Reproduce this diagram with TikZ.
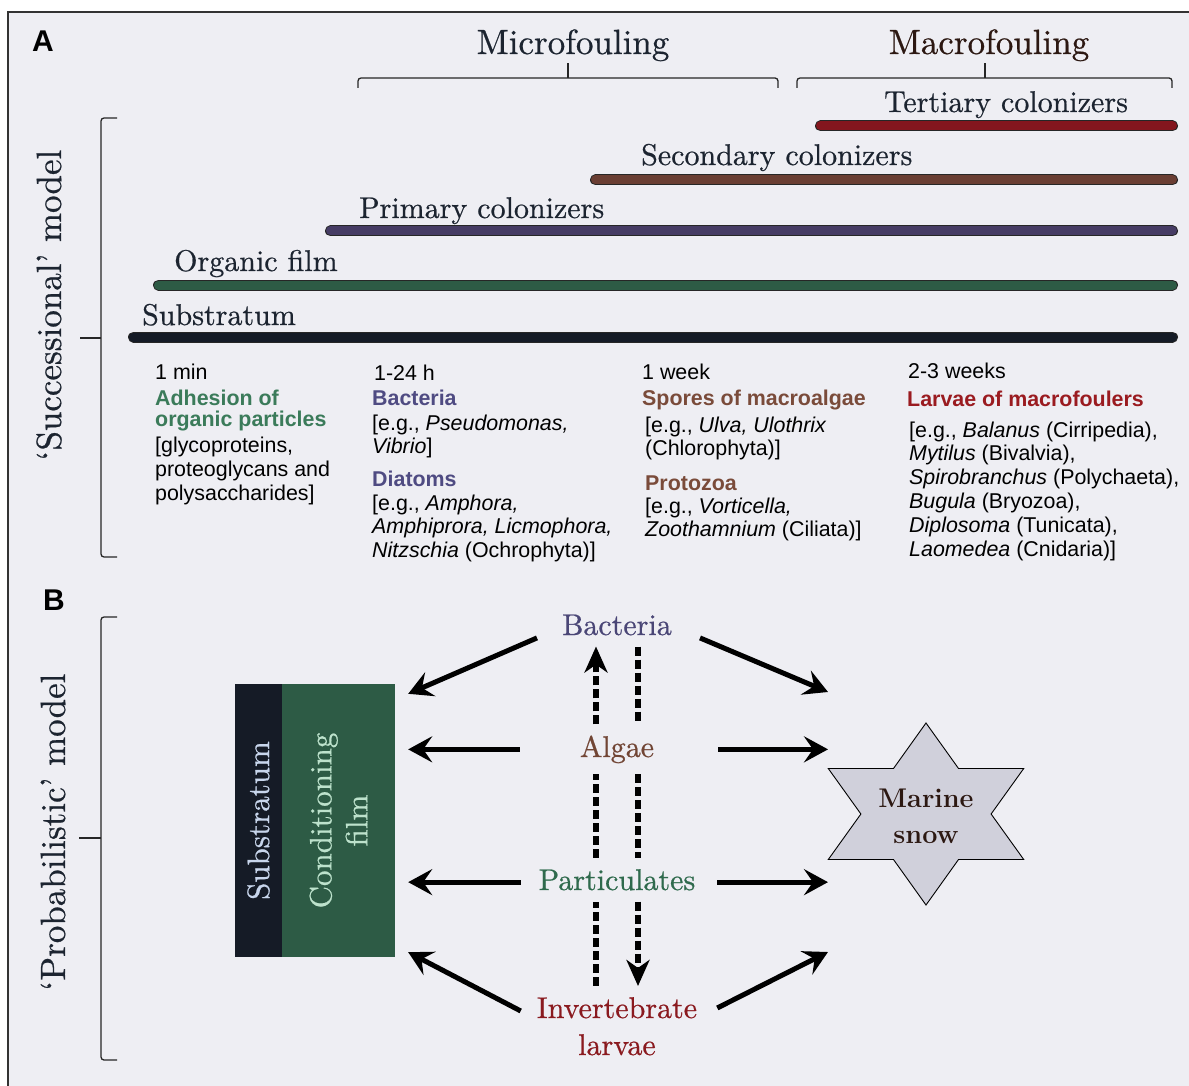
\documentclass[tikz,border=0pt]{standalone}
\usepackage{fontspec}
\setsansfont{Liberation Sans}
\newfontfamily\serifheavy{lmroman10-regular}[Extension=.otf, Ligatures=TeX, FakeBold=0.6]
\usepackage{tikz}
\usetikzlibrary{arrows.meta,calc,positioning}
\definecolor{bgcol}{HTML}{EEEEF3}
\definecolor{subcol}{HTML}{151B26}
\definecolor{filmcol}{HTML}{2D5B45}
\definecolor{primcol}{HTML}{463C64}
\definecolor{seccol}{HTML}{6A3E33}
\definecolor{tertcol}{HTML}{84161E}
\definecolor{microcol}{HTML}{1C2430}
\definecolor{macrocol}{HTML}{2C1812}
\definecolor{greencol}{HTML}{3B7B5A}
\definecolor{purpcol}{HTML}{4F4B82}
\definecolor{browncol}{HTML}{7A4B3A}
\definecolor{redcol}{HTML}{9A1B20}
\definecolor{bactcol}{HTML}{4A4676}
\definecolor{algcol}{HTML}{714534}
\definecolor{partcol}{HTML}{2F6A4D}
\definecolor{invcol}{HTML}{8A1A1F}
\definecolor{starcol}{HTML}{D0D0DB}
\definecolor{subtext}{HTML}{C8D6EC}
\definecolor{filmtext}{HTML}{BDE2CC}

\begin{document}
\begin{tikzpicture}[
    x=1pt, y=-1pt,
    bar/.style={draw=black!85, line width=1pt, double distance=9pt, line cap=round},
    brace/.style={draw=black!85, line width=1.3pt, rounded corners=3pt},
    fouling/.style={font=\serifheavy\fontsize{35}{40}\selectfont, anchor=base, inner sep=0pt},
    stage/.style={font=\serifheavy\fontsize{30}{36}\selectfont, anchor=base west, inner sep=0pt, text=microcol},
    modellabel/.style={font=\serifheavy\fontsize{35}{40}\selectfont, rotate=90, anchor=base, inner sep=0pt, text=microcol},
    panel/.style={font=\sffamily\bfseries\fontsize{30}{34}\selectfont, anchor=base west, inner sep=0pt},
    info/.style={font=\sffamily\fontsize{21.4}{23.8}\selectfont, align=left, anchor=base west, inner sep=0pt},
    head/.style={info, font=\sffamily\bfseries\fontsize{21.4}{20.5}\selectfont},
    agent/.style={font=\serifheavy\fontsize{30}{37}\selectfont, align=center, anchor=base, inner xsep=0pt, inner ysep=11pt},
    arr/.style={line width=5pt, -{Stealth[length=24pt, width=26pt, inset=9pt]}},
    dline/.style={line width=5.5pt, dash pattern=on 9pt off 4pt},
    dtip/.style={-{Stealth[length=26pt, width=23pt, inset=8pt]}}
]
\useasboundingbox (0,0) rectangle (1189,1086);
\fill[white] (0,0) rectangle (1189,1086);
\fill[bgcol] (8,12) rectangle (1189,1086);
\draw[black!80, line width=1.2pt] (8,1086) -- (8,12) -- (1189,12);

\node[panel] (pa) at (32,52) {A};
\node[panel] (pb) at (43,610) {B};

\node[fouling, text=microcol] (micro) at (573,54) {Microfouling};
\node[fouling, text=macrocol] (macro) at (989,54) {Macrofouling};
\draw[brace] (358,88) |- (568,78) -| (778,88);
\draw[brace] (568,78) -- (568,63);
\draw[brace] (797,88) |- (985,78) -| (1172,88);
\draw[brace] (985,78) -- (985,63);

\draw[brace] (117,118) -| (101,557) -- (117,557);
\draw[brace] (101,338) -- (80,338);
\node[modellabel] (succ) at (61,305) {`Successional' model};

\draw[bar, double=tertcol] (820.5,126) -- (1172.5,126);
\draw[bar, double=seccol] (595.5,180) -- (1172.5,180);
\draw[bar, double=primcol] (330.5,231) -- (1172.5,231);
\draw[bar, double=filmcol] (158.5,285) -- (1172.5,285);
\draw[bar, double=subcol] (133.5,337) -- (1172.5,337);
\node[stage] (ltert) at (884,112) {Tertiary colonizers};
\node[stage] (lsec) at (641,165) {Secondary colonizers};
\node[stage] (lprim) at (359,218) {Primary colonizers};
\node[stage] (lorg) at (174,271) {Organic film};
\node[stage] (lsub) at (142,325) {Substratum};

\node[info] (t1) at (155,379) {1 min};
\node[head, text=greencol] (h1) at (155,426.2) {Adhesion of\\organic particles};
\node[info] (b1) at (155,500.3) {[glycoproteins,\\proteoglycans and\\polysaccharides]};

\node[info] (t2) at (374,380) {1-24 h};
\node[head, text=purpcol] (h2) at (372,405.7) {Bacteria};
\node[info] (b2) at (372,453.8) {[e.g., \textit{Pseudomonas,}\\\textit{Vibrio}]};
\node[head, text=purpcol] (h3) at (372,486.7) {Diatoms};
\node[info] (b3) at (372,557.6) {[e.g., \textit{Amphora,}\\\textit{Amphiprora, Licmophora,}\\\textit{Nitzschia} (Ochrophyta)]};

\node[info] (t3) at (642,379) {1 week};
\node[head, text=browncol] (h4) at (642,405) {Spores of macroalgae};
\node[info] (b4) at (645,455.8) {[e.g., \textit{Ulva, Ulothrix}\\(Chlorophyta)]};
\node[head, text=browncol] (h5) at (645,490) {Protozoa};
\node[info] (b5) at (645,536.8) {[e.g., \textit{Vorticella,}\\\textit{Zoothamnium} (Ciliata)]};

\node[info] (t4) at (908,378) {2-3 weeks};
\node[head, text=redcol] (h6) at (907,406.7) {Larvae of macrofoulers};
\node[info] (b6) at (909,556) {[e.g., \textit{Balanus} (Cirripedia),\\\textit{Mytilus} (Bivalvia),\\\textit{Spirobranchus} (Polychaeta),\\\textit{Bugula} (Bryozoa),\\\textit{Diplosoma} (Tunicata),\\\textit{Laomedea} (Cnidaria)]};

\draw[brace] (117,617) -| (101,1060) -- (117,1060);
\draw[brace] (101,838) -- (79,838);
\node[modellabel] (prob) at (65,832) {`Probabilistic' model};

\node[fill=subcol, minimum width=47pt, minimum height=273pt, inner sep=0pt] (sub) at (258.5,820.5) {};
\node[fill=filmcol, minimum width=113pt, minimum height=273pt, inner sep=0pt] (film) at (338.5,820.5) {};
\node[font=\serifheavy\fontsize{31}{36}\selectfont, text=subtext, rotate=90, inner sep=0pt] (subl) at (sub) {Substratum};
\node[font=\serifheavy\fontsize{31}{36}\selectfont, text=filmtext, rotate=90, align=center, inner sep=0pt] (filml) at (film) {Conditioning\\film};

\coordinate (snowc) at (926,814);
\begin{scope}[shift={(snowc)}, xscale=1.24]
\draw[fill=starcol, line width=0.9pt] (90:91) -- (120:52.5) -- (150:91) -- (180:52.5) -- (210:91) -- (240:52.5)
    -- (270:91) -- (300:52.5) -- (330:91) -- (0:52.5) -- (30:91) -- (60:52.5) -- cycle;
\end{scope}
\node[font=\bfseries\fontsize{27}{36}\selectfont, text=macrocol, align=center, inner sep=0pt] (snow) at ($(snowc)+(0,2)$) {Marine\\snow};

\node[agent, text=bactcol] (bact) at (617,635) {Bacteria};
\node[agent, text=algcol] (alg) at (617,757) {Algae};
\node[agent, text=partcol] (part) at (617,890) {Particulates};
\node[agent, text=invcol] (inv) at (617,1055) {Invertebrate\\larvae};

\draw[arr] ($(bact.west)+(-25,13)$) -- ($(film.north east)+(13,10)$);
\draw[arr] ($(alg.west)+(-60,0)$) -- ($(film.east |- alg.west)+(13,0)$);
\draw[arr] ($(part.west)+(-18,2.4)$) -- ($(film.east |- part.west)+(13,2.4)$);
\draw[arr] ($(inv.north west)+(-16,25)$) -- ($(film.south east)+(13,-5)$);

\draw[arr] ($(bact.east)+(28,13)$) -- ($(snowc)+(-98,-122)$);
\draw[arr] ($(alg.east)+(64,0)$) -- ($(snowc |- alg.east)+(-98,0)$);
\draw[arr] ($(part.east)+(22,2.4)$) -- ($(snowc |- part.east)+(-98,2.4)$);
\draw[arr] ($(inv.north east)+(20,22)$) -- ($(snowc)+(-98,138)$);

\draw[dline] ($(inv.north)+(-21,0)$) -- ($(part.south)+(-21,0)$);
\draw[dline] ($(part.north)+(-21,0)$) -- ($(alg.south)+(-21,0)$);
\draw[dline, dtip] ($(alg.north)+(-21,0)$) -- ($(bact.south)+(-21,0)$);
\draw[dline] ($(bact.south)+(21,0)$) -- ($(alg.north)+(21,0)$);
\draw[dline] ($(alg.south)+(21,0)$) -- ($(part.north)+(21,0)$);
\draw[dline, dtip] ($(part.south)+(21,0)$) -- ($(inv.north)+(21,0)$);
\end{tikzpicture}
\end{document}
